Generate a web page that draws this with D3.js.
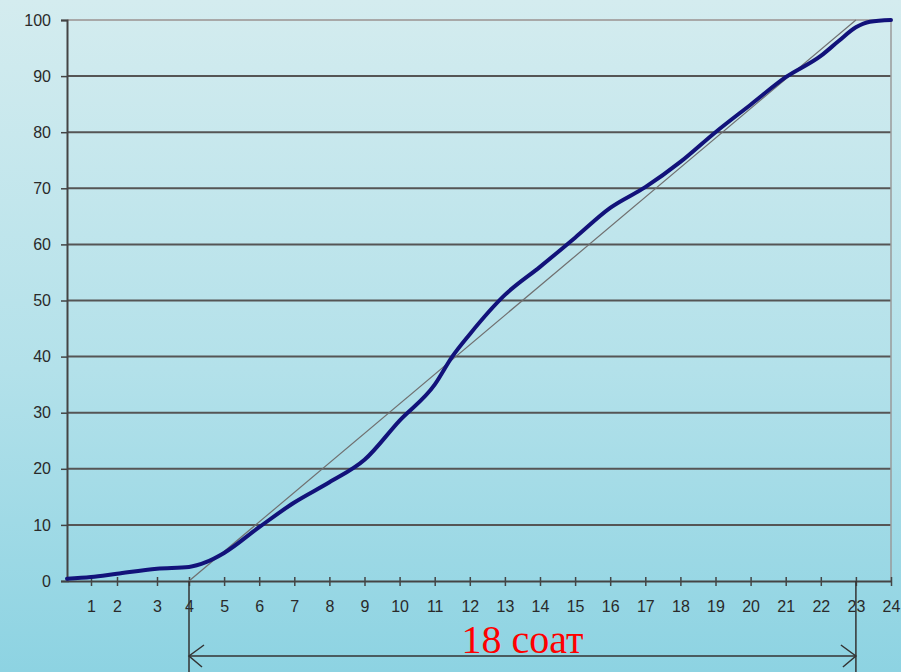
<!DOCTYPE html>
<html>
<head>
<meta charset="utf-8">
<script src="https://cdn.jsdelivr.net/npm/d3@7"></script>
<style>
  html, body { margin: 0; padding: 0; }
  body { width: 901px; height: 672px; overflow: hidden; }
</style>
</head>
<body>
<div id="chart"></div>
<script>
// hours on x, percent on y
const hours = [0, 1, 2, 3, 4, 4.5, 5, 6, 7, 8, 9, 10, 11, 11.5, 12, 13, 14, 15, 16, 17, 18, 19, 20, 21, 22, 22.5, 23, 23.4, 24]
const percent = [0.4, 0.7, 1.3, 2.2, 2.5, 3.4, 5, 9.6, 14, 17.6, 21.6, 28.6, 35, 40, 44, 51, 56, 61.2, 66.5, 70.2, 74.7, 80, 84.9, 89.8, 93.6, 96.2, 98.7, 99.7, 100]
const trendHours = [4, 23]
const trendPercent = [0, 100]
const xTicks = d3.range(1, 25)
const yTicks = d3.range(0, 101, 10)
const spanLabel = '18 соат'

const W = 901, H = 672

const svg = d3.select('#chart').append('svg')
  .attr('width', W).attr('height', H)

const defs = svg.append('defs')
const grad = defs.append('linearGradient').attr('id', 'bg')
  .attr('x1', 0).attr('y1', 0).attr('x2', 0).attr('y2', 1)
grad.append('stop').attr('offset', '0%').attr('stop-color', '#d4ecef')
grad.append('stop').attr('offset', '55%').attr('stop-color', '#b3e1ea')
grad.append('stop').attr('offset', '100%').attr('stop-color', '#8dd3e2')
svg.append('rect').attr('width', W).attr('height', H).attr('fill', 'url(#bg)')

// the first hours in the picture are not evenly spaced
const x = d3.scaleLinear().domain([0, 1, 2, 3, 4, 24]).range([67, 91, 117, 157, 189, 891])
const y = d3.scaleLinear().domain([0, 100]).range([581, 20])

// grid
svg.append('g').selectAll('line').data(yTicks.filter(d => d > 0)).enter().append('line')
  .attr('x1', x(0)).attr('x2', x(24))
  .attr('y1', d => y(d)).attr('y2', d => y(d))
  .attr('stroke', d => d === 100 ? '#a8a8a8' : '#555')
  .attr('stroke-width', 2)

// right border
svg.append('line').attr('x1', x(24)).attr('x2', x(24)).attr('y1', y(100)).attr('y2', y(0))
  .attr('stroke', '#9a9a9a').attr('stroke-width', 1.5)

// y axis
const yAxis = svg.append('g').attr('transform', `translate(${x(0)},0)`)
  .call(d3.axisLeft(y).tickValues(yTicks).tickSize(6).tickPadding(10))
yAxis.select('.domain').attr('stroke', '#444').attr('stroke-width', 2)
yAxis.selectAll('.tick line').attr('stroke', '#444').attr('stroke-width', 1.5)
yAxis.selectAll('text').attr('font-family', 'Liberation Sans, Arial, sans-serif')
  .attr('font-size', 16).attr('fill', '#2a2a2a')

// x axis
const xAxis = svg.append('g').attr('transform', `translate(0,${y(0)})`)
  .call(d3.axisBottom(x).tickValues(xTicks).tickSize(5).tickPadding(15).tickSizeOuter(0))
xAxis.select('.domain').attr('stroke', '#444').attr('stroke-width', 2)
xAxis.selectAll('.tick line').attr('y1', -4).attr('stroke', '#444').attr('stroke-width', 1.5)
xAxis.selectAll('text').attr('font-family', 'Liberation Sans, Arial, sans-serif')
  .attr('font-size', 16).attr('fill', '#2a2a2a')

// trend line
svg.append('path')
  .datum(trendHours.map((h, i) => [h, trendPercent[i]]))
  .attr('d', d3.line().x(d => x(d[0])).y(d => y(d[1])))
  .attr('fill', 'none').attr('stroke', '#707070').attr('stroke-width', 1.2)

// main curve
svg.append('path')
  .datum(hours.map((h, i) => [h, percent[i]]))
  .attr('d', d3.line().x(d => x(d[0])).y(d => y(d[1])).curve(d3.curveMonotoneX))
  .attr('fill', 'none').attr('stroke', '#12127a').attr('stroke-width', 4)
  .attr('stroke-linecap', 'round')

// dimension arrow from 4 to 23 hours
const ay = 656
const dim = svg.append('g').attr('stroke', '#333').attr('stroke-width', 1.5).attr('fill', 'none')
trendHours.forEach(h => {
  dim.append('line').attr('x1', x(h)).attr('x2', x(h)).attr('y1', y(0)).attr('y2', H)
})
dim.append('line').attr('x1', x(4)).attr('x2', x(23)).attr('y1', ay).attr('y2', ay)
dim.append('path').attr('d', `M${x(4) + 15},${ay - 11}L${x(4)},${ay}L${x(4) + 13},${ay + 11}`)
dim.append('path').attr('d', `M${x(23) - 15},${ay - 11}L${x(23)},${ay}L${x(23) - 13},${ay + 11}`)

svg.append('text')
  .attr('x', (x(4) + x(23)) / 2).attr('y', 653)
  .attr('text-anchor', 'middle')
  .attr('font-family', 'Liberation Serif, Times New Roman, serif')
  .attr('font-size', 40).attr('fill', '#ff0000')
  .text(spanLabel)
</script>
</body>
</html>
